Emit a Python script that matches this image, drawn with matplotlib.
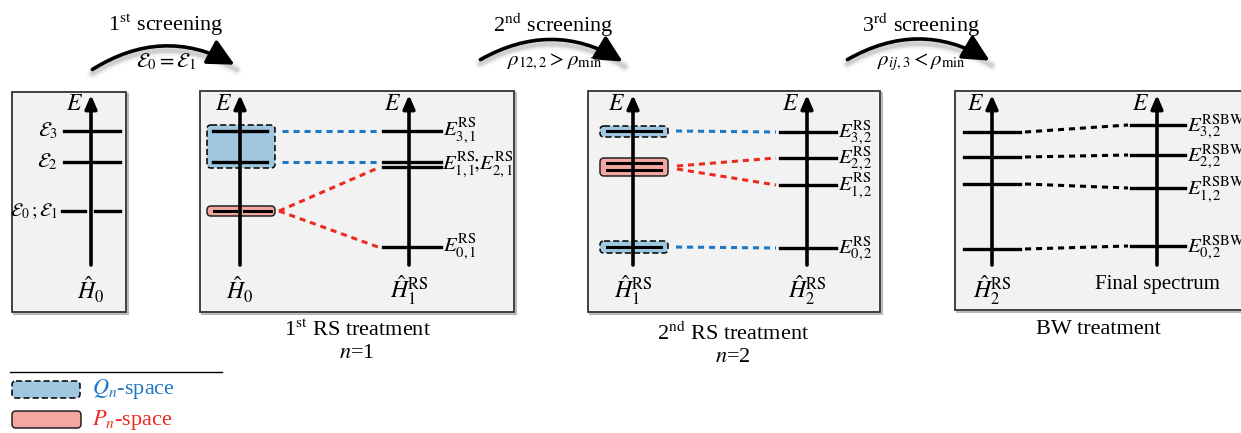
import matplotlib
matplotlib.use("Agg")
from matplotlib import pyplot as plt
from matplotlib.patches import FancyBboxPatch, FancyArrowPatch

plt.rcParams['font.family'] = ['Liberation Serif', 'DejaVu Serif']
plt.rcParams['mathtext.fontset'] = 'stix'

# energy levels (pixel rows) of each spectrum
h0_levels = [131, 162, 211, 211]
rs1_levels = [247, 167, 162, 131]
rs2_levels = [248, 185, 158, 132]
bw_left_levels = [249, 184, 157, 132]
bw_right_levels = [246, 188, 155, 125]

level_names_1 = [r'$\mathcal{E}_3$', r'$\mathcal{E}_2$', r'$\mathcal{E}_0\,;\mathcal{E}_1$']
rs1_names = [r'$E^{\rm RS}_{3,1}$', r'$E^{\rm RS}_{1,1}\!;\!E^{\rm RS}_{2,1}$', r'$E^{\rm RS}_{0,1}$']
rs2_names = [r'$E^{\rm RS}_{3,2}$', r'$E^{\rm RS}_{2,2}$', r'$E^{\rm RS}_{1,2}$', r'$E^{\rm RS}_{0,2}$']
bw_names = [r'$E^{\rm RSBW}_{3,2}$', r'$E^{\rm RSBW}_{2,2}$', r'$E^{\rm RSBW}_{1,2}$', r'$E^{\rm RSBW}_{0,2}$']

screen_titles = [r'1$^{\rm st}$ screening', r'2$^{\rm nd}$ screening', r'3$^{\rm rd}$ screening']
screen_rules = [r'$\mathcal{E}_0 = \mathcal{E}_1$', r'$\rho_{12,2} > \rho_{\rm min}$',
                r'$\rho_{ij,3} < \rho_{\rm min}$']

BLUE_FILL = '#9fc7e0'
PINK_FILL = '#f4a7a0'
BLUE_LINE = '#1f78c4'
RED_LINE = '#ec2a1e'
BG = '#f2f2f2'

fig = plt.figure(figsize=(12.41, 4.33), dpi=100)
ax = fig.add_axes([0, 0, 1, 1])
ax.set_xlim(0, 1241)
ax.set_ylim(433, 0)
ax.axis('off')


def panel(x0, y0, x1, y1):
    ax.add_patch(plt.Rectangle((x0, y0), x1 - x0, y1 - y0, facecolor=BG,
                               edgecolor='#333333', lw=1.3, zorder=0))
    # soft drop shadow
    ax.plot([x0 + 2, x1 + 2], [y1 + 2, y1 + 2], color='#bbbbbb', lw=1.5, zorder=-1)
    ax.plot([x1 + 2, x1 + 2], [y0 + 2, y1 + 2], color='#bbbbbb', lw=1.5, zorder=-1)


def energy_axis(x, label=None, label_y=290):
    ax.annotate('', xy=(x, 95), xytext=(x, 265),
                arrowprops=dict(arrowstyle='-|>,head_length=0.8,head_width=0.35',
                                lw=2.6, color='k', shrinkA=0, shrinkB=0), zorder=5)
    ax.text(x - 16, 104, '$E$', fontsize=17, ha='center', va='center')
    if label:
        ax.text(x, label_y, label, fontsize=17, ha='center', va='center')


def level(x, y, half=28, gap=False):
    if gap:
        ax.plot([x - half, x - 5], [y, y], color='k', lw=2.4, zorder=6)
        ax.plot([x + 5, x + half + 2], [y, y], color='k', lw=2.4, zorder=6)
    else:
        ax.plot([x - half, x + half], [y, y], color='k', lw=2.4, zorder=6)


def space_box(x0, y0, x1, y1, kind):
    if kind == 'Q':
        p = FancyBboxPatch((x0, y0), x1 - x0, y1 - y0,
                           boxstyle='round,pad=0,rounding_size=4',
                           facecolor=BLUE_FILL, edgecolor='k', lw=1.1, ls=(0, (4, 2)), zorder=3)
    else:
        p = FancyBboxPatch((x0, y0), x1 - x0, y1 - y0,
                           boxstyle='round,pad=0,rounding_size=4',
                           facecolor=PINK_FILL, edgecolor='#222222', lw=1.1, zorder=3)
    ax.add_patch(p)


def link(x0, y0, x1, y1, color):
    ax.plot([x0, x1], [y0, y1], color=color, lw=2.2, ls=(0, (2.0, 1.6)), zorder=4)


def screening_arc(xa, ya, xb, yb, title, rule):
    xm = (xa + xb) / 2
    # blurred shadow under the arc
    for k, a in zip([8, 5, 3], [0.07, 0.12, 0.2]):
        sh = FancyArrowPatch((xa, ya + 4), (xb + 2, yb + 5), connectionstyle='arc3,rad=-0.3',
                             arrowstyle='-', lw=k, color='#777777', alpha=a, zorder=1)
        ax.add_patch(sh)
    arr = FancyArrowPatch((xa, ya), (xb, yb), connectionstyle='arc3,rad=-0.3',
                          arrowstyle='-|>,head_length=0.9,head_width=0.45',
                          mutation_scale=18, lw=2.6, color='k', zorder=2)
    ax.add_patch(arr)
    ax.text(xm + 2, 25, title, fontsize=16, ha='center', va='center')
    ax.text(xm + 3, 62, rule, fontsize=15, ha='center', va='center')


# top arrows for the screening steps
screening_arc(90, 71, 237, 66, screen_titles[0], screen_rules[0])
screening_arc(478, 61, 625, 63, screen_titles[1], screen_rules[1])
screening_arc(845, 61, 992, 62, screen_titles[2], screen_rules[2])

# panel 0: unperturbed spectrum
panel(12, 92, 126, 312)
energy_axis(91, r'$\hat{H}_0$')
level(92, h0_levels[0])
level(92, h0_levels[1])
level(90, h0_levels[2], half=28, gap=True)
ax.text(58, h0_levels[0], level_names_1[0], fontsize=15, ha='right', va='center')
ax.text(58, h0_levels[1], level_names_1[1], fontsize=15, ha='right', va='center')
ax.text(58, h0_levels[2], level_names_1[2], fontsize=14, ha='right', va='center')

# panel 1: first RS treatment
panel(200, 91, 514, 312)
energy_axis(240, r'$\hat{H}_0$')
energy_axis(409, r'$\hat{H}^{\rm RS}_1$')
space_box(207, 125, 275, 168, 'Q')
space_box(207, 206, 275, 216, 'P')
level(240, h0_levels[0], half=27)
level(240, h0_levels[1], half=27)
ax.plot([214, 236], [211, 211], color='k', lw=2.2, zorder=6)
ax.plot([244, 271], [211, 211], color='k', lw=2.2, zorder=6)
for y in rs1_levels:
    level(412, y, half=29)
link(282, h0_levels[0], 378, rs1_levels[3], BLUE_LINE)
link(282, h0_levels[1], 378, rs1_levels[2], BLUE_LINE)
link(279, 211, 378, rs1_levels[1] + 1, RED_LINE)
link(279, 211, 378, rs1_levels[0], RED_LINE)
ax.text(443, rs1_levels[3], rs1_names[0], fontsize=15, ha='left', va='center')
ax.text(442, 165, rs1_names[1], fontsize=15, ha='left', va='center')
ax.text(443, rs1_levels[0], rs1_names[2], fontsize=15, ha='left', va='center')
ax.text(357, 330, r'1$^{\rm st}$ RS treatment', fontsize=16, ha='center', va='center')
ax.text(357, 354, r'$n$=1', fontsize=16, ha='center', va='center')

# panel 2: second RS treatment
panel(588, 91, 880, 312)
energy_axis(633, r'$\hat{H}^{\rm RS}_1$')
energy_axis(807, r'$\hat{H}^{\rm RS}_2$')
space_box(600, 126, 668, 137, 'Q')
space_box(600, 158, 668, 176, 'P')
space_box(600, 241, 668, 253, 'Q')
for y in [131, 163, 170, 247]:
    ax.plot([607, 661], [y, y], color='k', lw=2.2, zorder=6)
for y in rs2_levels:
    level(808, y, half=28)
link(676, 131, 776, rs2_levels[3], BLUE_LINE)
link(676, 247, 776, rs2_levels[0], BLUE_LINE)
link(677, 166, 776, rs2_levels[2], RED_LINE)
link(677, 169, 776, rs2_levels[1], RED_LINE)
for y, name in zip(rs2_levels[::-1], rs2_names):
    ax.text(838, y + 1, name, fontsize=15, ha='left', va='center')
ax.text(733, 333, r'2$^{\rm nd}$ RS treatment', fontsize=16, ha='center', va='center')
ax.text(733, 357, r'$n$=2', fontsize=16, ha='center', va='center')

# panel 3: BW treatment and final spectrum
panel(955, 91, 1260, 310)
energy_axis(992, r'$\hat{H}^{\rm RS}_2$')
energy_axis(1157)
ax.text(1157, 284, 'Final spectrum', fontsize=15, ha='center', va='center')
for y in bw_left_levels:
    ax.plot([964, 1020], [y, y], color='k', lw=2.4, zorder=6)
for y in bw_right_levels:
    ax.plot([1131, 1185], [y, y], color='k', lw=2.4, zorder=6)
for yl, yr in zip(bw_left_levels, bw_right_levels):
    link(1025, yl, 1128, yr, 'k')
for y, name in zip(bw_right_levels[::-1], bw_names):
    ax.text(1187, y + 2, name, fontsize=15, ha='left', va='center')
ax.text(1098, 330, 'BW treatment', fontsize=16, ha='center', va='center')

# legend
ax.plot([10, 222], [372, 372], color='k', lw=1.0)
space_box(12, 381, 80, 398, 'Q')
space_box(12, 411, 81, 428, 'P')
ax.text(92, 389, r'$Q_n$-space', fontsize=16, color=BLUE_LINE, ha='left', va='center')
ax.text(92, 420, r'$P_n$-space', fontsize=16, color=RED_LINE, ha='left', va='center')

fig.savefig('out.png', dpi=100)
